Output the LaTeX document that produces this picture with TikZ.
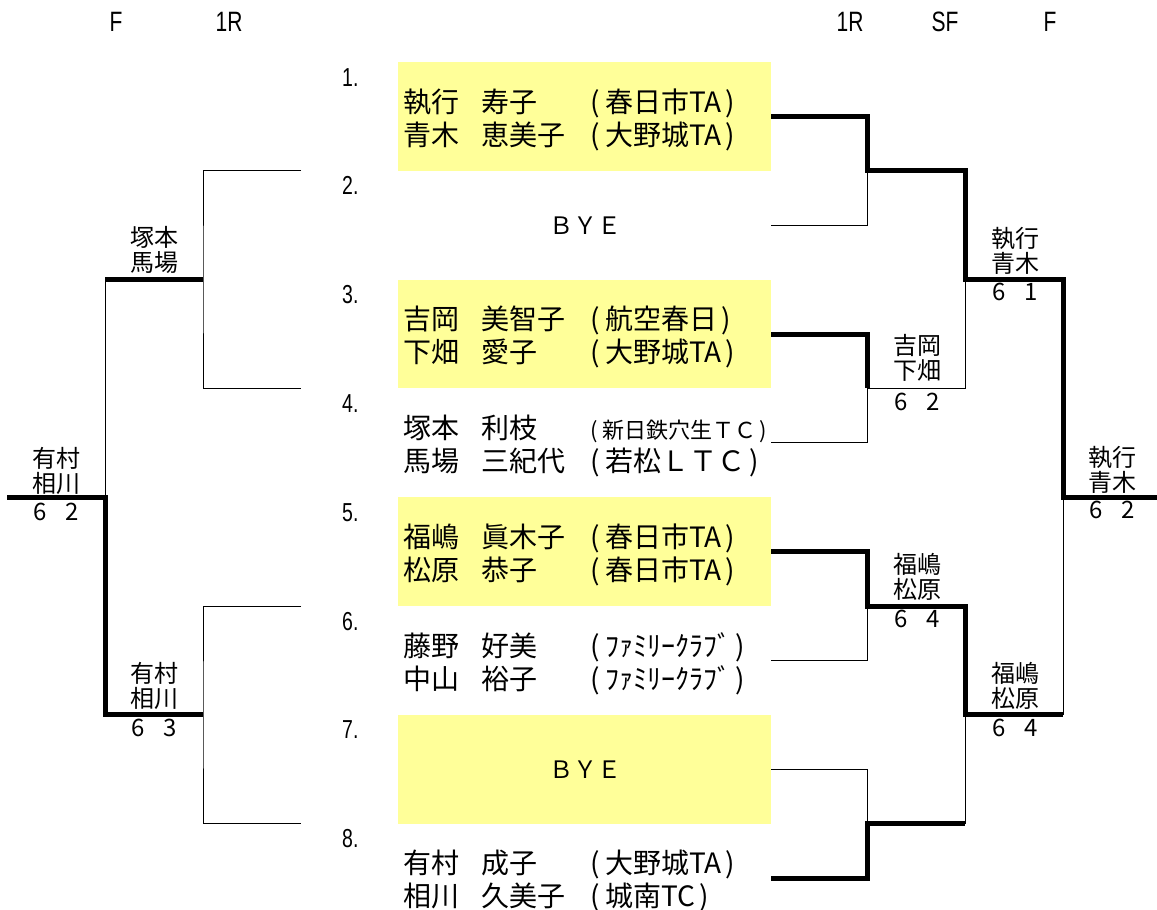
\documentclass[tikz,border=0pt]{standalone}
\usepackage{fontspec}
\usepackage{graphicx}
\setmainfont{Noto Sans CJK JP}
\newfontfamily\headfont{Liberation Sans}
\usetikzlibrary{positioning}
\definecolor{seedyellow}{RGB}{255,255,153}
\newcommand{\namefont}{\fontsize{28}{30}\selectfont}
\newcommand{\clubsmall}{\fontsize{22}{24}\selectfont}
\newcommand{\pairfont}{\fontsize{24}{25}\selectfont}
\newcommand{\tally}[2]{#1\hspace{0.75em}#2}
\newcommand{\club}[1]{(\kern0.2em#1\kern0.15em)}

\begin{document}
\begin{tikzpicture}[x=1pt,y=-1pt]
    \tikzstyle{lose line}=[line width=1pt]
    \tikzstyle{win line}=[line width=5pt,line join=miter]
    \tikzstyle{seed box}=[fill=seedyellow]
    \tikzstyle{entrant}=[anchor=base west,inner sep=0pt,font=\namefont]
    \tikzstyle{pair}=[align=center,inner sep=0pt,font=\pairfont]
    \tikzstyle{score}=[inner sep=0pt,font=\pairfont]
    \tikzstyle{bye}=[inner sep=0pt,font=\pairfont]
    \tikzstyle{round head}=[inner sep=0pt,font=\headfont\fontsize{28}{28}\selectfont]
    \tikzstyle{slot no}=[anchor=base west,inner sep=0pt,font=\headfont\fontsize{26}{26}\selectfont]
\useasboundingbox (0,0) rectangle (1157,910);

% seeded slots
\foreach \i in {1,3,5,7}
    \fill[seed box] (398,{62+108.8*(\i-1)}) rectangle (771,{62+108.8*\i});

% round headings
\node[round head] (hl1) at (116,22) {\scalebox{0.75}[1]{F}};
\node[round head] (hl2) at (229,22) {\scalebox{0.75}[1]{1R}};
\node[round head] (hr1) at (850,22) {\scalebox{0.75}[1]{1R}};
\node[round head] (hr2) at (945,22) {\scalebox{0.75}[1]{SF}};
\node[round head] (hr3) at (1050,22) {\scalebox{0.75}[1]{F}};

% draw numbers and line ends
\foreach \i in {1,...,8} {
    \node[slot no] (n\i) at (342,{62+108.8*(\i-1)+24}) {\scalebox{0.75}[1]{\i.}};
    \coordinate (e\i) at (771,{116.4+108.8*(\i-1)});
}

% entrants
\foreach \i/\sa/\ga/\ca/\sb/\gb/\cb in {
    1/執行/寿子/\club{春日市TA}/青木/恵美子/\club{大野城TA},
    3/吉岡/美智子/\club{航空春日}/下畑/愛子/\club{大野城TA},
    4/塚本/利枝/{\clubsmall\club{新日鉄穴生ＴＣ}}/馬場/三紀代/\club{若松ＬＴＣ},
    5/福嶋/眞木子/\club{春日市TA}/松原/恭子/\club{春日市TA},
    6/藤野/好美/\club{ﾌｧﾐﾘｰｸﾗﾌﾞ}/中山/裕子/\club{ﾌｧﾐﾘｰｸﾗﾌﾞ},
    8/有村/成子/\club{大野城TA}/相川/久美子/\club{城南TC}} {
    \pgfmathsetmacro\slottop{62+108.8*(\i-1)}
    \node[entrant] (sa\i) at (403,\slottop+50) {\sa};
    \node[entrant] (ga\i) at (481,\slottop+50) {\ga};
    \node[entrant] (ca\i) at (590,\slottop+50) {\ca};
    \node[entrant] (sb\i) at (403,\slottop+83) {\sb};
    \node[entrant] (gb\i) at (481,\slottop+83) {\gb};
    \node[entrant] (cb\i) at (590,\slottop+83) {\cb};
}
\node[bye] (bye2) at (585,225.2) {ＢＹＥ};
\node[bye] (bye7) at (585,769.2) {ＢＹＥ};

% right draw
\coordinate (q12) at (867,170.8);
\coordinate (q34) at (867,388.4);
\coordinate (q56) at (867,606);
\coordinate (q78) at (867,823.6);
\coordinate (s14) at (965,279.6);
\coordinate (s58) at (965,714.8);
\coordinate (f18) at (1063,497.2);
\coordinate (champ) at (1157,497.2);

\draw[lose line] (e2) -| (q12);
\draw[lose line] (e4) -| (q34) -| (s14);
\draw[lose line] (e6) -| (q56);
\draw[lose line] (e7) -| (q78) -| (s58) -| (f18);
\draw[win line] (e1) -| (q12) -| (s14) -| (f18) -- (champ);
\draw[win line] (e3) -| (q34);
\draw[win line] (e5) -| (q56) -| (s58) -- (s58 -| f18);
\draw[win line] (e8) -| (q78) -- (q78 -| s58);

% left draw
\coordinate (la1) at (301,170.8);
\coordinate (la2) at (301,388.4);
\coordinate (la3) at (301,606);
\coordinate (la4) at (301,823.6);
\coordinate (lm1) at (203,279.6);
\coordinate (lm2) at (203,714.8);
\coordinate (lfin) at (105,497.2);
\coordinate (lend) at (7,497.2);

\draw[lose line] (la1) -| (lm1) |- (la2);
\draw[lose line] (la3) -| (lm2) |- (la4);
\draw[lose line] (lm1) -| (lfin);
\draw[win line] (lm1) -- (lm1 -| lfin);
\draw[win line] (lend) -- (lfin) |- (lm2);

% winners
\node[pair] (wq34) at (917,357.5) {吉岡\\下畑};
\node[score] (tq34) at (917,402) {\tally{6}{2}};
\node[pair] (ws14) at (1015,250.5) {執行\\青木};
\node[score] (ts14) at (1015,292) {\tally{6}{1}};
\node[pair] (wf18) at (1112,469.5) {執行\\青木};
\node[score] (tf18) at (1112,510) {\tally{6}{2}};
\node[pair] (wq56) at (917,577) {福嶋\\松原};
\node[score] (tq56) at (917,619) {\tally{6}{4}};
\node[pair] (ws58) at (1015,685.5) {福嶋\\松原};
\node[score] (ts58) at (1015,728) {\tally{6}{4}};
\node[pair] (wlm1) at (154,250) {塚本\\馬場};
\node[pair] (wlfin) at (56,470.5) {有村\\相川};
\node[score] (tlfin) at (56,512) {\tally{6}{2}};
\node[pair] (wlm2) at (154,685.5) {有村\\相川};
\node[score] (tlm2) at (154,728) {\tally{6}{3}};
\end{tikzpicture}
\end{document}
